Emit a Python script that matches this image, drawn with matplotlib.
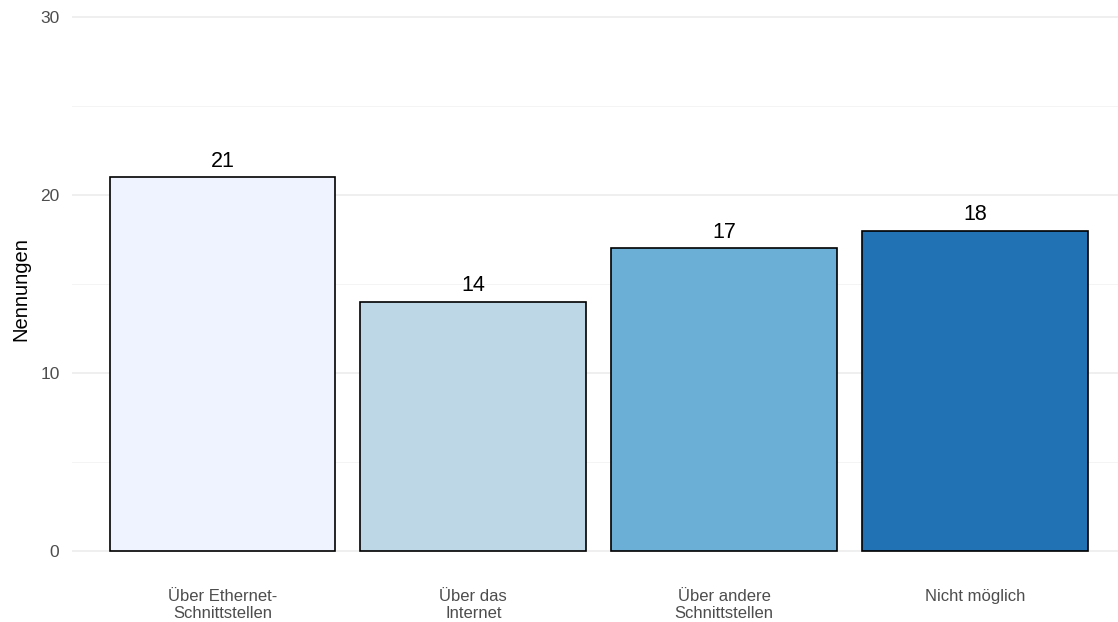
import matplotlib.pyplot as plt
import numpy as np

plt.rcParams['font.family'] = ['Liberation Sans', 'DejaVu Sans']

categories = ['Über Ethernet-\nSchnittstellen', 'Über das\nInternet',
              'Über andere\nSchnittstellen', 'Nicht möglich']
values = [21, 14, 17, 18]
colors = ['#EFF3FF', '#BDD7E7', '#6BAED6', '#2171B5']

fig = plt.figure(figsize=(11.18, 6.22), dpi=100)
ax = fig.add_axes([72 / 1118, 44 / 622, 1 - 72 / 1118, 578 / 622])

x = np.arange(len(categories))
bars = ax.bar(x, values, width=0.9, color=colors, edgecolor='black', linewidth=1.2, zorder=3)
for xi, v in zip(x, values):
    ax.text(xi, v + 0.3, str(v), ha='center', va='bottom', fontsize=15.5, color='black')

ax.set_xlim(-0.6, 3 + 143 / 251)
ax.set_ylim(-27 / 17.8, 30 + 17 / 17.8)
ax.set_yticks([0, 10, 20, 30])
ax.set_yticks([5, 15, 25], minor=True)
ax.grid(axis='y', which='major', color='#EBEBEB', linewidth=1.1, zorder=0)
ax.grid(axis='y', which='minor', color='#F2F2F2', linewidth=0.6, zorder=0)
ax.set_xticks(x)
ax.set_xticklabels(categories, fontsize=12, color='#4D4D4D', linespacing=1.15)
ax.tick_params(axis='y', labelsize=12.5, labelcolor='#4D4D4D', length=0, pad=9)
ax.tick_params(axis='y', which='minor', length=0)
ax.tick_params(axis='x', length=0, pad=8)
ax.set_ylabel('Nennungen', fontsize=14.5, labelpad=7)
for s in ax.spines.values():
    s.set_visible(False)

fig.savefig('out.png', dpi=100)
